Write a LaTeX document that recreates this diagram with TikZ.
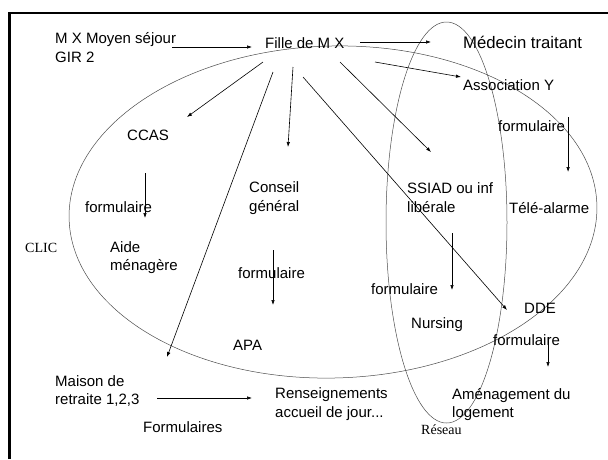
\documentclass[tikz,border=0pt]{standalone}
\usepackage{fontspec}
\setmainfont{Liberation Sans}
\newfontfamily\serifnote{Liberation Serif}
\usetikzlibrary{arrows.meta}
\begin{document}
\begin{tikzpicture}[x=1pt,y=-1pt,
	every node/.style={inner sep=0pt,anchor=west,align=left,font=\fontsize{15}{18.5}\selectfont},
	arr/.style={-{Latex[length=5pt,width=3.5pt]},line width=0.6pt},
	zone/.style={draw=black!70,line width=0.5pt},
	tag/.style={font=\serifnote\fontsize{14}{16}\selectfont}]
	\useasboundingbox (0,0) rectangle (608,459);
	\draw[line width=2.6pt] (9.5,459) |- (608,13);
	\draw[zone,rotate around={1.5:(333,212)}] (333,212) ellipse [x radius=264,y radius=166];
	\draw[zone] (446.5,222.5) ellipse [x radius=60.5,y radius=200.5];
	\node (mx) at (55,47.5) {M X Moyen séjour\\GIR 2};
	\node (fille) at (265,43) {Fille de M X};
	\node[font=\fontsize{16.7}{19}\selectfont] (medecin) at (463,42) {Médecin traitant};
	\node (asso) at (463,85) {Association Y};
	\node (form1) at (498,126) {formulaire};
	\node (tele) at (509,208) {Télé-alarme};
	\node (ssiad) at (407,197.5) {SSIAD ou inf\\libérale};
	\node (ccas) at (127,135) {CCAS};
	\node (conseil) at (249,198) {Conseil\\général};
	\node (form2) at (85,207) {formulaire};
	\node[tag] (clic) at (25,248) {CLIC};
	\node (aide) at (110,257.5) {Aide\\ménagère};
	\node (form3) at (238,273) {formulaire};
	\node (apa) at (233,345) {APA};
	\node (maison) at (55,391) {Maison de\\retraite 1,2,3};
	\node (rens) at (275,404) {Renseignements\\accueil de jour...};
	\node (forms) at (143,427) {Formulaires};
	\node (form4) at (371,289) {formulaire};
	\node (nursing) at (411,325) {Nursing};
	\node (dde) at (524,308) {DDE};
	\node (form5) at (493,340) {formulaire};
	\node (amen) at (452,404.5) {Aménagement du\\logement};
	\node[tag] (reseau) at (421,430) {Réseau};
	\coordinate (mxa) at (172,47);
	\coordinate (fillein) at (252,47);
	\coordinate (f1) at (360,42);
	\coordinate (medin) at (431,42);
	\coordinate (f2) at (375,62);
	\coordinate (assoin) at (461,77);
	\coordinate (f3) at (340,62);
	\coordinate (ssiadin) at (431,152);
	\coordinate (f4) at (303,77);
	\coordinate (ddein) at (507,310);
	\coordinate (f5) at (263,62);
	\coordinate (ccasin) at (187,117);
	\coordinate (f6) at (293,67);
	\coordinate (conseilin) at (288,147);
	\coordinate (f7) at (273,72);
	\coordinate (maisonin) at (167,357);
	\coordinate (maisona) at (157,398);
	\coordinate (rensin) at (252,398);
	\draw[arr] (mxa) -- (fillein);
	\draw[arr] (f1) -- (medin);
	\draw[arr] (f2) -- (assoin);
	\draw[arr] (f3) -- (ssiadin);
	\draw[arr] (f4) -- (ddein);
	\draw[arr] (f5) -- (ccasin);
	\draw[arr] (f6) -- (conseilin);
	\draw[arr] (f7) -- (maisonin);
	\draw[arr] (maisona) -- (rensin);
	\draw[arr] (form1.east) ++(3,-9) -- ++(0,55);
	\draw[arr] (145,173) -- (145,218);
	\draw[arr] (273,250) -- (273,305);
	\draw[arr] (452,233) -- (452,290);
	\draw[arr] (548,337) -- (548,367);
\end{tikzpicture}
\end{document}
